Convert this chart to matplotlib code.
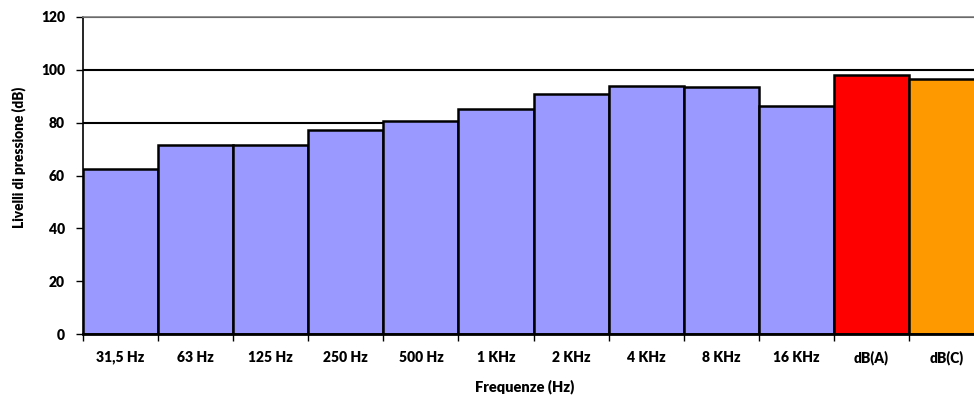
import matplotlib
matplotlib.use("Agg")
import matplotlib.pyplot as plt
import numpy as np

categories = ["31,5 Hz", "63 Hz", "125 Hz", "250 Hz", "500 Hz", "1 KHz", "2 KHz",
              "4 KHz", "8 KHz", "16 KHz", "dB(A)", "dB(C)"]
values = [62.5, 71.6, 71.6, 77.3, 80.8, 85.2, 90.9, 93.9, 93.6, 86.2, 98.2, 96.6]
colors = ["#9999FF"] * 10 + ["#FF0000", "#FF9900"]
yticks = [0, 20, 40, 60, 80, 100, 120]

plt.rcParams['font.family'] = ['Lato', 'DejaVu Sans']
FW = 'heavy'

fig = plt.figure(figsize=(9.74, 3.96), dpi=100)
W, H = 974, 396
ax = fig.add_axes([83 / W, (H - 334) / H, 901 / W, 317 / H])

x = np.arange(len(categories))
ax.bar(x, values, width=1.0, color=colors, edgecolor="black", linewidth=1.8, zorder=3)

ax.set_xlim(-0.5, len(categories) - 0.5)
ax.set_ylim(0, 120)
ax.set_yticks(yticks)
ax.set_yticklabels([str(t) for t in yticks], fontsize=10, fontweight=FW)
ax.set_xticks(x)
ax.set_xticklabels(categories, fontsize=10, fontweight=FW)
ax.set_xticks(np.arange(-0.5, len(categories)), minor=True)
ax.tick_params(axis='x', which='major', length=0, pad=12)
ax.tick_params(axis='x', which='minor', length=5, width=1, direction='out', color='black')
ax.tick_params(axis='y', length=5, width=1, direction='out', pad=8)

ax.yaxis.grid(True, color="black", linewidth=1.5, zorder=0)
ax.set_axisbelow(True)

ax.spines["right"].set_visible(False)
ax.spines["top"].set_color("#808080")
ax.spines["top"].set_linewidth(1.2)
ax.spines["left"].set_linewidth(1.2)
ax.spines["bottom"].set_linewidth(2)
ax.spines["bottom"].set_zorder(4)

ax.set_xlabel("Frequenze (Hz)", fontsize=10.5, fontweight=FW)
ax.set_ylabel("Livelli di pressione (dB)", fontsize=9.8, fontweight=FW)
ax.xaxis.set_label_coords((525 - 83) / 901, (334 - 379) / 317)
ax.yaxis.set_label_coords((26 - 83) / 901, (334 - 157) / 317)

fig.savefig("out.png", dpi=100)
